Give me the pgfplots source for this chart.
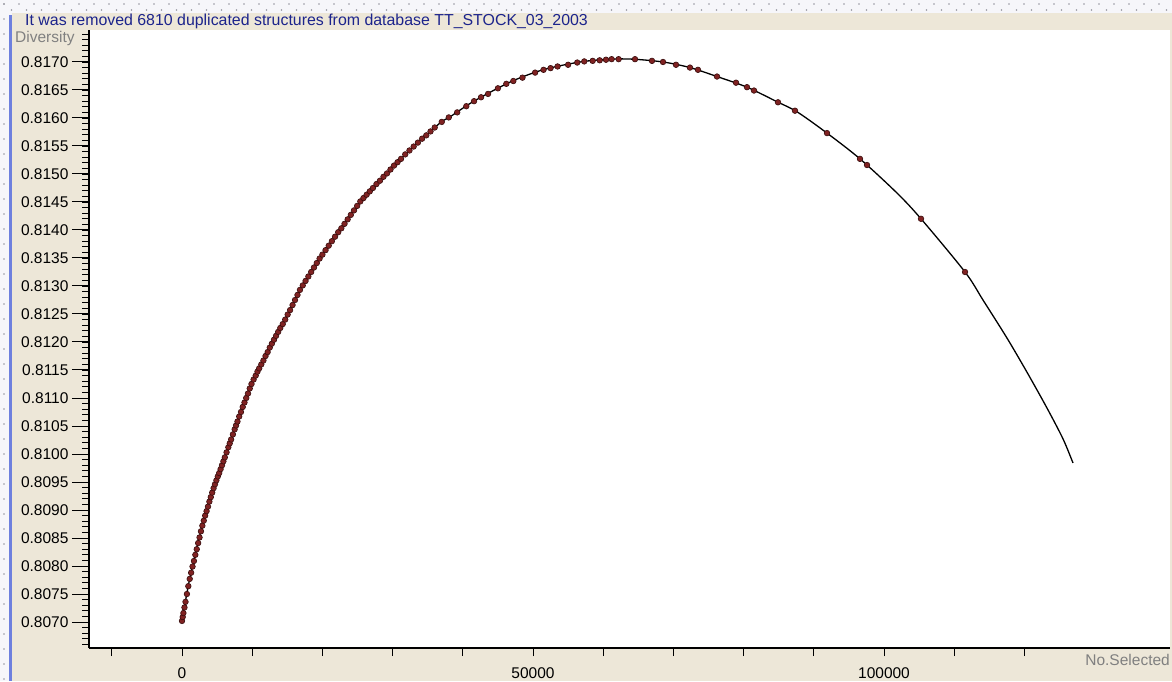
\documentclass[border=0pt]{standalone}
\usepackage{fontspec}
\setmainfont{Liberation Sans}
\usepackage{pgfplots}
\pgfplotsset{compat=1.18}

\definecolor{xpface}{RGB}{237,231,216}
\definecolor{xpblue}{RGB}{110,128,222}
\definecolor{titleblue}{RGB}{28,36,140}
\definecolor{dotbg}{RGB}{246,246,250}
\definecolor{dotgray}{RGB}{150,150,160}
\definecolor{markred}{RGB}{128,34,34}
\definecolor{markedge}{RGB}{55,12,12}

\begin{document}
\begin{tikzpicture}[x=1pt,y=1pt]
\useasboundingbox (0,0) rectangle (1172,681);
% window background
\fill[dotbg] (0,0) rectangle (1172,681);
\foreach \i in {0,...,78} {
  \fill[dotgray] (\i*15+4,677) circle (0.8);
  \fill[dotgray] (\i*15+11.5,671) circle (0.8);
}
\foreach \j in {0,...,45} {
  \fill[dotgray] (4,\j*15+2) circle (0.8);
}
\fill[xpface] (12,0) rectangle (1172,668);
\fill[xpblue] (8.5,0) rectangle (12,666);
\begin{scope}
  \clip (12,0) rectangle (1172,668);
  \node[anchor=base west, inner sep=0, text=titleblue, font=\fontsize{15.9}{18}\selectfont]
    at (25,655) {It was removed 6810 duplicated structures from database TT\_STOCK\_03\_2003};
\end{scope}

\begin{axis}[
    at={(89pt,33pt)}, anchor=south west,
    scale only axis,
    width=1081pt, height=618pt,
    xmin=-13248, xmax=140740,
    ymin=0.806536, ymax=0.817571,
    axis x line*=bottom, axis y line*=left,
    axis line style={black, line width=1.2pt, -},
    axis background/.style={fill=white},
    tick align=outside,
    major tick length=17pt, minor tick length=7pt,
    every tick/.style={black, line width=1pt},
    xtick={-10000,0,10000,20000,30000,40000,50000,60000,70000,80000,90000,100000,110000,120000},
    xticklabels={},
    x tick style={/pgfplots/major tick length=8pt},
    extra x ticks={0,50000,100000},
    extra x tick labels={0,50000,100000},
    extra x tick style={/pgfplots/major tick length=12pt},
    xticklabel style={yshift=-4pt},
    scaled x ticks=false, scaled y ticks=false,
    ytick={0.8070,0.8075,0.8080,0.8085,0.8090,0.8095,0.8100,0.8105,0.8110,0.8115,0.8120,
           0.8125,0.8130,0.8135,0.8140,0.8145,0.8150,0.8155,0.8160,0.8165,0.8170},
    minor ytick={0.8066,0.8067,...,0.8175},
    yticklabel style={/pgf/number format/.cd, fixed, fixed zerofill, precision=4},
    /pgf/number format/assume math mode=true,
    tick label style={font=\fontsize{15.5}{18}\selectfont, text=black},
    clip=false,
]
% fitted curve
\addplot[black, line width=1.3pt, smooth, tension=0.5] coordinates {
  (0,0.80702) (1140,0.80780) (2990,0.80877) (4420,0.80936) (6130,0.80995)
  (7980,0.81061) (9970,0.81127) (12110,0.81180) (13680,0.81218) (14670,0.81239)
  (16810,0.81293) (19660,0.81350) (22510,0.81400) (25360,0.81450) (27780,0.81482)
  (30060,0.81513) (32910,0.81548) (36750,0.81591) (38180,0.81602) (41450,0.81629)
  (46720,0.81664) (51420,0.81686) (56700,0.81700) (60970,0.81705) (64250,0.81705)
  (68520,0.81700) (72360,0.81690) (76210,0.81674) (80480,0.81655) (84760,0.81629)
  (87610,0.81611) (91880,0.81573) (96580,0.81527) (101850,0.81466) (105270,0.81420)
  (111540,0.81325) (114100,0.81275) (117520,0.81207) (120370,0.81146) (123220,0.81082)
  (125500,0.81027) (126920,0.80984)
};
% selected points
\addplot[only marks, mark=*, mark size=2.8pt,
         mark options={fill=markred, draw=markedge, line width=0.6pt}] coordinates {
  (0,0.80702) (100,0.80709) (200,0.80716) (350,0.80726) (500,0.80736) (700,0.80750)
  (900,0.80764) (1100,0.80777) (1300,0.80788) (1500,0.80799) (1700,0.80809)
  (1900,0.80820) (2100,0.80830) (2300,0.80841) (2500,0.80851) (2700,0.80862)
  (2900,0.80872) (3100,0.80881) (3300,0.80890) (3500,0.80898) (3700,0.80906)
  (3900,0.80915) (4100,0.80923) (4300,0.80931) (4500,0.80939) (4700,0.80946)
  (4900,0.80953) (5100,0.80960) (5300,0.80966) (5500,0.80973) (5700,0.80980)
  (5900,0.80987) (6100,0.80994) (6350,0.81003) (6600,0.81012) (6800,0.81019)
  (7000,0.81026) (7250,0.81035) (7500,0.81044) (7700,0.81051) (7900,0.81058)
  (8150,0.81067) (8400,0.81075) (8650,0.81084) (8900,0.81092) (9150,0.81100)
  (9400,0.81108) (9650,0.81117) (9900,0.81125) (10200,0.81133) (10500,0.81140)
  (10750,0.81147) (11000,0.81153) (11300,0.81160) (11600,0.81167) (11900,0.81175)
  (12200,0.81182) (12500,0.81190) (12800,0.81197) (13100,0.81204) (13400,0.81211)
  (13700,0.81218) (14000,0.81225) (14350,0.81232) (14700,0.81240) (15050,0.81249)
  (15400,0.81257) (15750,0.81266) (16100,0.81275) (16450,0.81284) (16800,0.81293)
  (17200,0.81301) (17600,0.81309) (18000,0.81317) (18400,0.81325) (18800,0.81333)
  (19200,0.81341) (19600,0.81349) (20000,0.81356) (20450,0.81364) (20900,0.81372)
  (21350,0.81380) (21800,0.81388) (22250,0.81396) (22700,0.81403) (23150,0.81411)
  (23600,0.81419) (24050,0.81427) (24500,0.81435) (24950,0.81443) (25400,0.81451)
  (25850,0.81457) (26300,0.81463) (26750,0.81469) (27200,0.81475) (27700,0.81482)
  (28200,0.81488) (28700,0.81495) (29200,0.81501) (29700,0.81508) (30200,0.81515)
  (30700,0.81521) (31200,0.81527) (31800,0.81535) (32400,0.81542) (33000,0.81549)
  (33600,0.81556) (34200,0.81563) (34800,0.81569) (35400,0.81576) (36000,0.81583)
  (37000,0.81593) (38000,0.81601) (39200,0.81610) (40500,0.81621) (41600,0.81630)
  (42600,0.81637) (43600,0.81643) (45000,0.81653) (46200,0.81661) (47200,0.81666)
  (48500,0.81672) (50300,0.81681) (51500,0.81686) (52500,0.81689) (53500,0.81692)
  (55000,0.81695) (56300,0.81699) (57300,0.81701) (58500,0.81702) (59500,0.81703)
  (60400,0.81704) (61200,0.81705) (62200,0.81705)
  (64530,0.81705) (66950,0.81702) (68520,0.81700) (70370,0.81695) (72360,0.81690)
  (73500,0.81686) (76210,0.81674) (78920,0.81663) (80480,0.81655) (81480,0.81649)
  (84900,0.81628) (87320,0.81613) (91880,0.81573) (96580,0.81527) (97580,0.81516)
  (105270,0.81420) (111540,0.81325)
};
\end{axis}

\node[anchor=west, inner sep=0, text=gray, font=\fontsize{15.5}{18}\selectfont] at (15,643) {Diversity};
\node[anchor=east, inner sep=0, text=gray, font=\fontsize{15.5}{18}\selectfont] at (1170,21) {No.Selected};
\end{tikzpicture}
\end{document}
